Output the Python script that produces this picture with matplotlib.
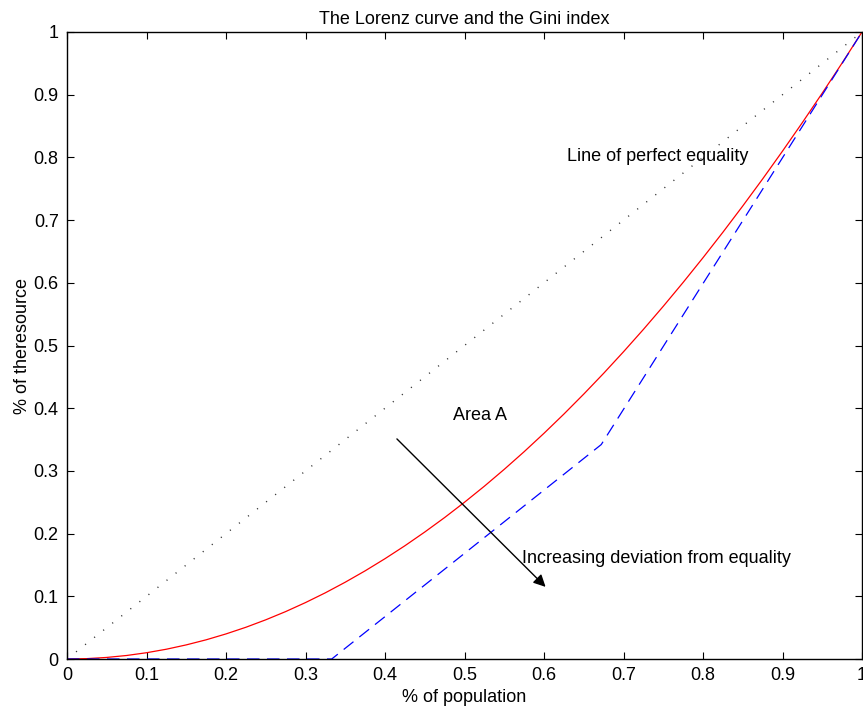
import matplotlib
matplotlib.use("Agg")
import matplotlib.pyplot as plt

plt.rcParams['font.family'] = ['Liberation Sans', 'DejaVu Sans']

# data
pop = [0, 0.025, 0.05, 0.075, 0.1, 0.125, 0.15, 0.175, 0.2, 0.225, 0.25,
       0.275, 0.3, 0.325, 0.35, 0.375, 0.4, 0.425, 0.45, 0.475, 0.5,
       0.525, 0.55, 0.575, 0.6, 0.625, 0.65, 0.675, 0.7, 0.725, 0.75,
       0.775, 0.8, 0.825, 0.85, 0.875, 0.9, 0.925, 0.95, 0.975, 1.0]
lorenz = [0, 0.0006, 0.0025, 0.0056, 0.01, 0.0156, 0.0225, 0.0306, 0.04, 0.0506, 0.0625,
          0.0756, 0.09, 0.1056, 0.1225, 0.1406, 0.16, 0.1806, 0.2025, 0.2256, 0.25,
          0.2756, 0.3025, 0.3306, 0.36, 0.3906, 0.4225, 0.4556, 0.49, 0.5256, 0.5625,
          0.6006, 0.64, 0.6806, 0.7225, 0.7656, 0.81, 0.8556, 0.9025, 0.9506, 1.0]
unequal_x = [0, 0.333, 0.672, 1.0]
unequal_y = [0, 0.0, 0.342, 1.0]
equal_x = [0, 1]
equal_y = [0, 1]

ticks = [0, 0.1, 0.2, 0.3, 0.4, 0.5, 0.6, 0.7, 0.8, 0.9, 1]
tick_labels = ['0', '0.1', '0.2', '0.3', '0.4', '0.5', '0.6', '0.7', '0.8', '0.9', '1']

fig = plt.figure(figsize=(8.63, 7.11), dpi=100)
ax = fig.add_axes([67/863, 52/711, 795/863, 627/711])

ax.plot(equal_x, equal_y, color='#333333', lw=1.0, linestyle=(0, (0.8, 7.5)))
ax.plot(pop, lorenz, color='red', lw=0.9)
ax.plot(unequal_x, unequal_y, color='blue', lw=0.9, linestyle=(0, (10, 6)))

ax.annotate('', xy=(0.602, 0.115), xytext=(0.415, 0.351),
            arrowprops=dict(arrowstyle='-|>', color='black', lw=1,
                            mutation_scale=18, shrinkA=0, shrinkB=0))

ax.text(0.486, 0.388, 'Area A', fontsize=13, va='center')
ax.text(0.629, 0.802, 'Line of perfect equality', fontsize=13, va='center')
ax.text(0.572, 0.16, 'Increasing deviation from equality', fontsize=13, va='center')

ax.set_xlim(0, 1)
ax.set_ylim(0, 1)
ax.set_xticks(ticks)
ax.set_xticklabels(tick_labels)
ax.set_yticks(ticks)
ax.set_yticklabels(tick_labels)
ax.tick_params(direction='in', length=5, width=0.8, top=True, right=True,
               labelsize=13, pad=6)
for s in ax.spines.values():
    s.set_linewidth(1)

ax.set_title('The Lorenz curve and the Gini index', fontsize=13, pad=6)
ax.set_xlabel('% of population', fontsize=13, labelpad=3)
ax.set_ylabel('% of theresource', fontsize=13, labelpad=2)

fig.savefig('out.png', dpi=100)
